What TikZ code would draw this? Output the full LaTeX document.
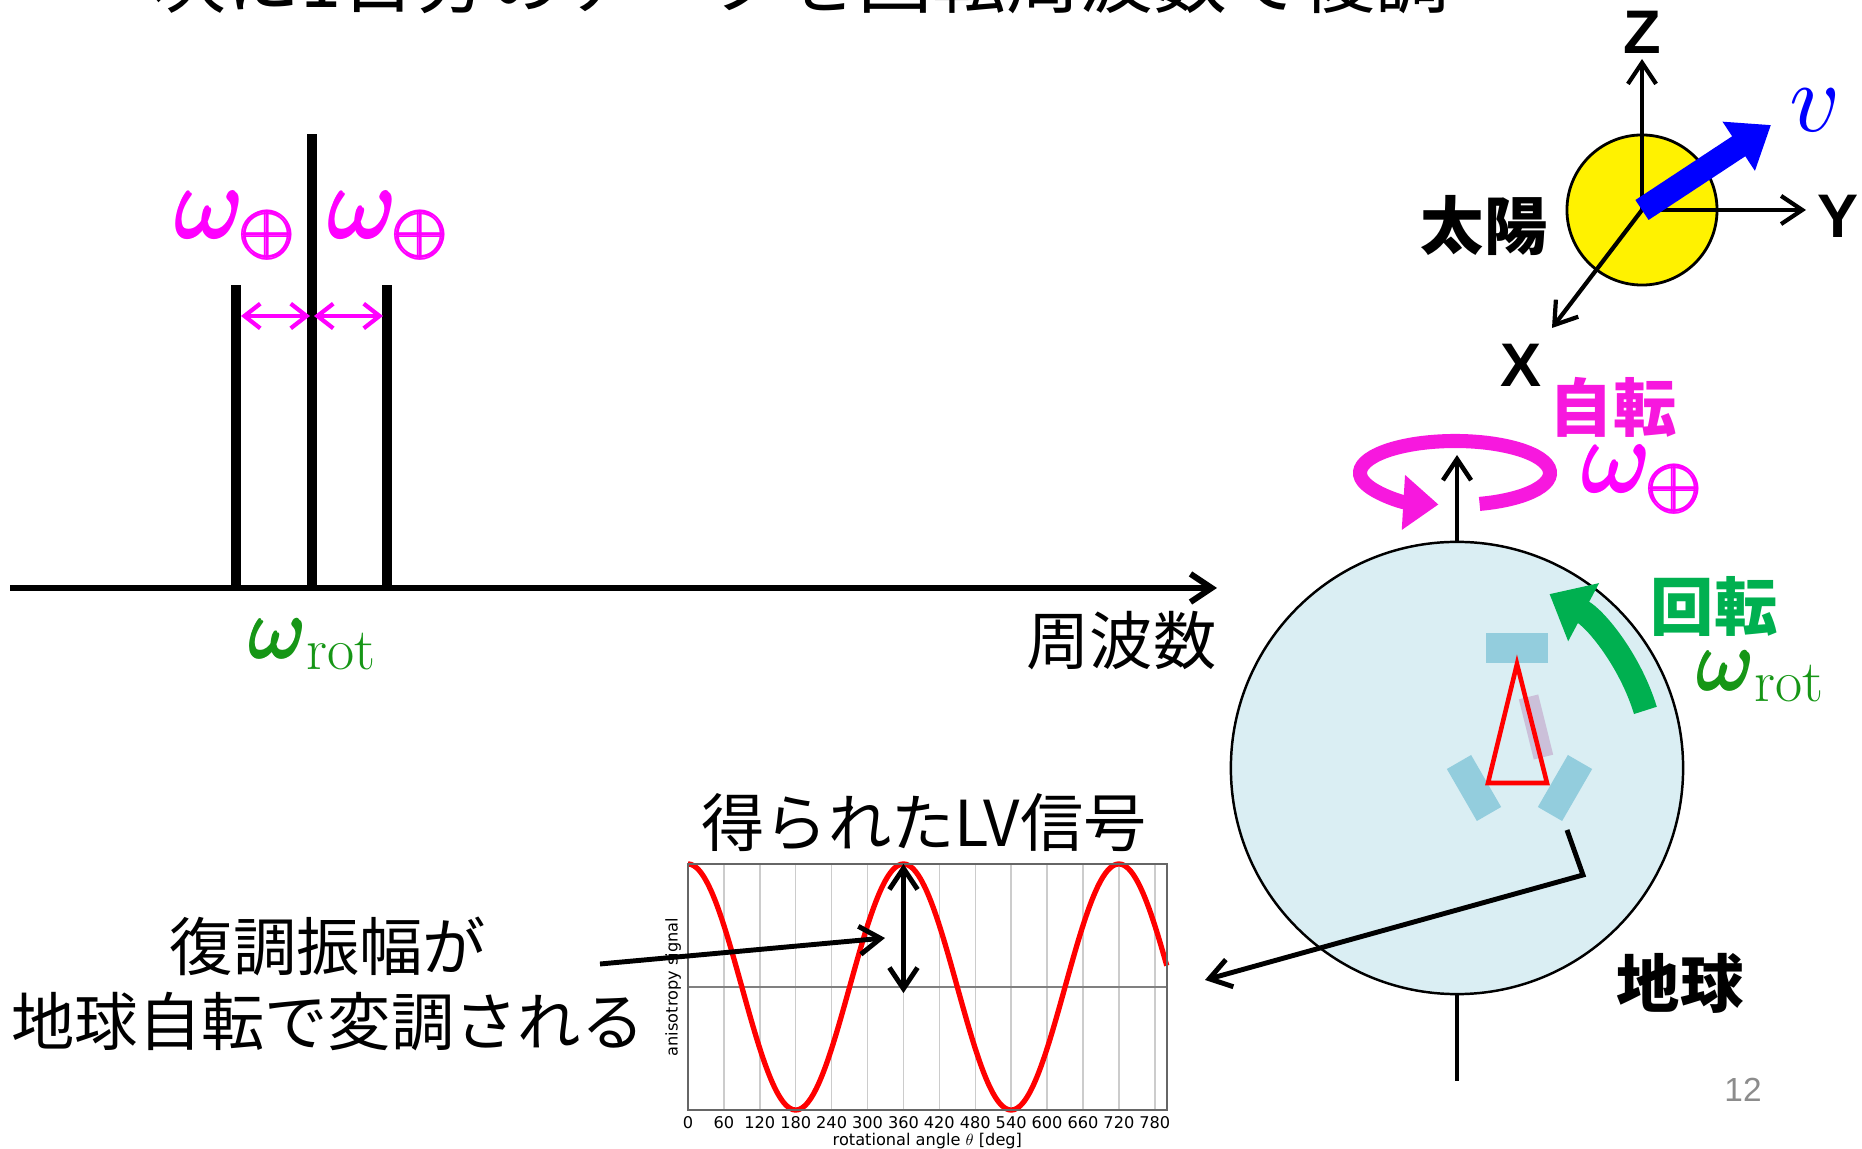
\documentclass[tikz,border=0pt]{standalone}
\usepackage{fontspec}
\setsansfont{Liberation Sans}
\newfontfamily\jp{Noto Sans CJK JP}
\newfontfamily\mpl{DejaVu Sans}
\usetikzlibrary{arrows.meta,positioning}
% scalable math fonts for the large omega labels
\DeclareFontShape{OML}{cmm}{m}{it}{<->cmmi10}{}
\DeclareFontShape{OMS}{cmsy}{m}{n}{<->cmsy10}{}
\DeclareFontShape{OT1}{cmr}{m}{n}{<->cmr10}{}
% heavier glyphs by overprinting
\newcommand{\heavy}[1]{\rlap{\kern.8pt#1}\rlap{\kern.4pt\raisebox{.4pt}{#1}}\rlap{\kern.4pt\raisebox{-.4pt}{#1}}#1\kern.8pt}
\newcommand{\omE}{\heavy{$\omega_{\oplus}$}}
\newcommand{\omR}{\heavy{$\omega$}$_{\mathrm{rot}}$}

\definecolor{ommag}{RGB}{255,0,255}
\definecolor{spinpink}{RGB}{247,24,222}
\definecolor{rotgreen}{RGB}{0,176,80}
\definecolor{omgreen}{RGB}{22,150,22}
\definecolor{earthblue}{RGB}{218,238,243}
\definecolor{armblue}{RGB}{147,205,221}
\definecolor{probe}{RGB}{203,192,217}
\definecolor{pagegray}{RGB}{140,140,140}

\begin{document}
\begin{tikzpicture}[x=0.01cm,y=-0.01cm,
  jtext/.style={font=\jp\fontsize{18}{21.3}\selectfont,inner sep=0pt},
  jbold/.style={font=\jp\bfseries\fontsize{18}{21.3}\selectfont,inner sep=0pt},
  axlab/.style={font=\sffamily\bfseries\fontsize{17.5}{20}\selectfont,inner sep=0pt},
  bigom/.style={font=\fontsize{29}{34}\selectfont,inner sep=0pt},
  smallom/.style={font=\fontsize{24}{28}\selectfont,inner sep=0pt},
  tick/.style={font=\mpl\fontsize{4.6}{5.5}\selectfont,inner sep=0pt},
  barb/.style={-{Straight Barb[length=6pt,width=8pt]}},
  spike/.style={line width=2.7pt},
  arm/.style={fill=armblue,inner sep=0pt}]
\useasboundingbox (0,0) rectangle (1862,1149);
\clip (0,0) rectangle (1862,1149);

% Heading (runs off the top edge)
\node[font=\jp\fontsize{21}{25}\selectfont,inner sep=0pt,anchor=base] (title) at (801,8)
  {次に1日分のデータを回転周波数で復調};

% Frequency axis
\coordinate (f0) at (10,588);
\coordinate (f1) at (1217,588);
\draw[line width=1.7pt,barb] (f0) -- (f1);
\node[jtext,anchor=north east] (freq) at (1217,611) {周波数};

% Spectral lines
\draw[spike] (236,588) -- (236,285);
\draw[spike] (312,588) -- (312,134);
\draw[spike] (387,588) -- (387,285);
\coordinate (sl) at (241,316);
\coordinate (sm1) at (310,316);
\coordinate (sm2) at (314,316);
\coordinate (sr) at (383,316);
\draw[ommag,line width=1.2pt,{Straight Barb[length=4.5pt,width=7pt]}-{Straight Barb[length=4.5pt,width=7pt]}] (sl) -- (sm1);
\draw[ommag,line width=1.2pt,{Straight Barb[length=4.5pt,width=7pt]}-{Straight Barb[length=4.5pt,width=7pt]}] (sm2) -- (sr);
\node[bigom,text=ommag] (oml) at (236,226) {\omE};
\node[bigom,text=ommag] (omr) at (389,226) {\omE};
\node[smallom,text=omgreen] (omrot) at (313,645) {\omR};

% Sun and the XYZ frame
\node[circle,draw,fill=yellow,line width=0.8pt,minimum size=1.5cm,inner sep=0pt] (sun) at (1642,210) {};
\coordinate (zt) at (1642,59);
\coordinate (yt) at (1806,210);
\coordinate (xt) at (1552,328);
\draw[line width=1.2pt,barb] (sun.center) -- (zt);
\draw[line width=1.2pt,barb] (sun.center) -- (yt);
\draw[line width=1.2pt,barb] (sun.center) -- (xt);
\node[axlab] (zl) at (1642,32) {Z};
\node[axlab] (yl) at (1838,216) {Y};
\node[axlab] (xl) at (1521,365) {X};
\coordinate (vt) at (1771,125);
\draw[blue,line width=6.8pt,-{Triangle[length=11pt,width=16pt]}] (sun.center) -- (vt);
\node[font=\fontsize{28}{32}\selectfont,text=blue,inner sep=0pt] (vl) at (1815,110) {$v$};
\node[jbold] (sunl) at (1484,226) {太陽};

% Earth with its spin axis
\node[circle,draw,fill=earthblue,line width=0.7pt,minimum size=4.52cm,inner sep=0pt] (earth) at (1457,768) {};
\coordinate (axtop) at (1457,455);
\coordinate (axbot) at (1457,1081);
\draw[line width=1.3pt,barb] (earth.north) -- (axtop);
\draw[line width=1.3pt] (earth.south) -- (axbot);

% Spin of the Earth
\coordinate (spin) at (1455,473);
\draw[spinpink,line width=4pt,-{Triangle[length=10pt,width=15pt]}]
  (spin) ++(75:95 and 32) arc[start angle=75,end angle=-260,x radius=95,y radius=32];
\node[jbold,text=spinpink] (spinl) at (1613,407) {自転};
\node[bigom,text=ommag] (spinom) at (1643,480) {\omE};

% Rotation of the detector
\draw[rotgreen,line width=6.8pt,-{Triangle[length=11pt,width=18pt]}]
  (earth.center) ++(-17:197) arc[start angle=-17,end angle=-62,radius=197];
\node[jbold,text=rotgreen] (rotl) at (1714,606) {回転};
\node[smallom,text=omgreen] (rotom) at (1761,677) {\omR};

% Detector arms and laser paths
\node[arm,minimum width=0.61cm,minimum height=0.3cm] (armtop) at (1517,648) {};
\node[arm,minimum width=0.28cm,minimum height=0.6cm,rotate=30] (armleft) at (1474,788) {};
\node[arm,minimum width=0.28cm,minimum height=0.6cm,rotate=-30] (armright) at (1565,788) {};
\node[fill=probe,inner sep=0pt,minimum width=0.2cm,minimum height=0.62cm,rotate=14] (probe) at (1536,727) {};
\coordinate (la) at (1517,664);
\coordinate (lb) at (1488,783);
\coordinate (lc) at (1547,783);
\draw[red,line width=1.3pt] (la) -- (lb) -- (lc) -- cycle;
\node[jbold] (earthl) at (1680,983) {地球};

% Read-out line from the detector
\coordinate (ro1) at (1567,830);
\coordinate (ro2) at (1583,875);
\coordinate (ro3) at (1205,980);
\draw[line width=1.4pt,barb] (ro1) -- (ro2) -- (ro3);

% Signal plot
\node[jtext] (sigl) at (924,823) {得られたLV信号};
\begin{scope}[shift={(688,987)},x=0.005975cm,y=1.23cm]
  \foreach \t in {60,120,...,780}
    \draw[gray!40,line width=0.4pt] (\t,-1) -- (\t,1);
  \draw[gray,line width=0.5pt] (0,0) -- (800,0);
  \draw[red,line width=1.5pt,domain=0:800,samples=161,smooth] plot (\x,{cos(\x)});
  \draw[gray!80!black,line width=0.5pt] (0,-1) rectangle (800,1);
  \foreach \t in {0,60,...,780}
    \node[tick,anchor=north] (t\t) at (\t,-1.045) {\t};
  \node[tick] (xlab) at (400,-1.25) {rotational angle $\theta$ [deg]};
  \node[tick,rotate=90] (ylab) at (-25,0) {anisotropy signal};
  \coordinate (peak) at (360,1);
  \coordinate (mid) at (360,-0.05);
\end{scope}
\draw[line width=1.4pt,{Straight Barb[length=6pt,width=8pt]}-{Straight Barb[length=6pt,width=8pt]}] (peak) -- (mid);

% Note on the amplitude
\node[jtext,align=center] (note) at (328,984) {復調振幅が\\地球自転で変調される};
\coordinate (nfrom) at (600,964);
\coordinate (nto) at (885,938);
\draw[line width=1.4pt,barb] (nfrom) -- (nto);

% Page number
\node[font=\sffamily\fontsize{9.5}{11}\selectfont,text=pagegray,inner sep=0pt] (page) at (1743,1090) {12};
\end{tikzpicture}
\end{document}
